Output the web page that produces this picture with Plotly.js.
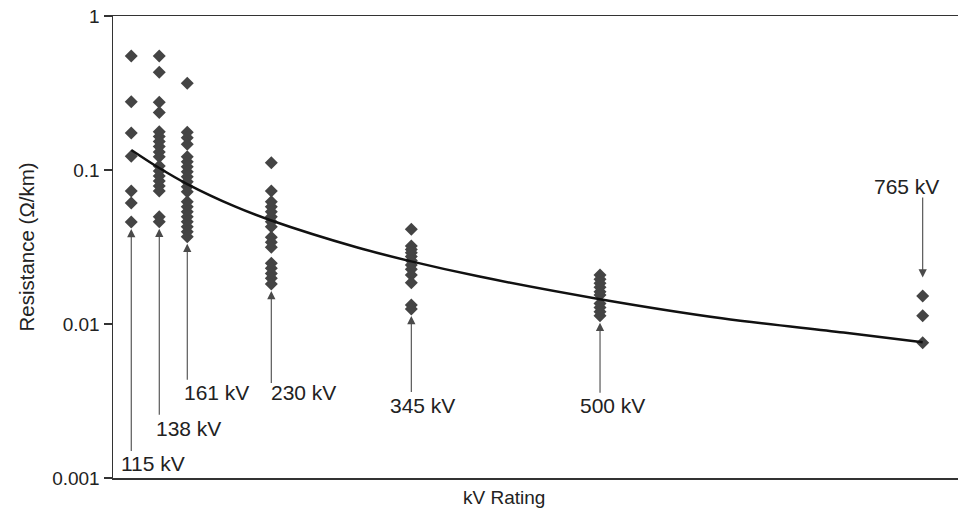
<!DOCTYPE html>
<html>
<head>
<meta charset="utf-8">
<script src="https://cdn.plot.ly/plotly-3.0.1.min.js"></script>
<style>html,body{margin:0;padding:0;background:#fff;}#chart{width:960px;height:512px;}</style>
</head>
<body>
<div id="chart"></div>
<script>
// kV ratings (categories)
const ratings = [115, 138, 161, 230, 345, 500, 765];
const ratingLabels = ["115 kV", "138 kV", "161 kV", "230 kV", "345 kV", "500 kV", "765 kV"];

// Resistance values (Ω/km), per rating
const r115 = [0.55, 0.277, 0.174, 0.123, 0.073, 0.061, 0.046];
const r138 = [0.55, 0.431, 0.275, 0.236, 0.177, 0.165, 0.153, 0.142, 0.131, 0.122, 0.106, 0.0986, 0.0914, 0.0849, 0.0787, 0.0731, 0.0498, 0.0462];
const r161 = [0.366, 0.176, 0.162, 0.147, 0.122, 0.113, 0.105, 0.0975, 0.0905, 0.0839, 0.0779, 0.0723, 0.0622, 0.0578, 0.0536, 0.0497, 0.0462, 0.0428, 0.0397, 0.0369];
const r230 = [0.1115, 0.0731, 0.0622, 0.0578, 0.0536, 0.0497, 0.0462, 0.0428, 0.0366, 0.0339, 0.0315, 0.0248, 0.0230, 0.0213, 0.0198, 0.0182];
const r345 = [0.0412, 0.0321, 0.0305, 0.0290, 0.0274, 0.0258, 0.0242, 0.0227, 0.0208, 0.0185, 0.0133, 0.0125];
const r500 = [0.0208, 0.0195, 0.0184, 0.0173, 0.0162, 0.0154, 0.0136, 0.0128, 0.0120, 0.0113];
const r765 = [0.0152, 0.0113, 0.00756];

// Trend curve
const trendKv = [115, 138, 161, 200, 230, 300, 345, 400, 500, 600, 700, 765];
const trendR  = [0.135, 0.103, 0.081, 0.058, 0.047, 0.0315, 0.0255, 0.0204, 0.0145, 0.0109, 0.0088, 0.0076];

// y tick labels
const yTickVals = [0.001, 0.01, 0.1, 1];
const yTickText = ["0.001", "0.01", "0.1", "1"];

const groups = [r115, r138, r161, r230, r345, r500, r765];
const xs = [], ys = [];
groups.forEach((g, i) => g.forEach(v => { xs.push(ratings[i]); ys.push(v); }));

const FONT = "Liberation Sans, Arial, sans-serif";
const FS = 19;
const LFS = 21;

const traces = [
  {
    x: xs, y: ys, type: "scatter", mode: "markers",
    marker: {symbol: "diamond", size: 10, color: "#444444"},
    hoverinfo: "skip"
  },
  {
    x: trendKv, y: trendR, type: "scatter", mode: "lines",
    line: {color: "#111111", width: 2.5, shape: "spline"},
    hoverinfo: "skip"
  }
];

// arrow settings: [pixel tail offset ay, label xshift, label paper y]
const arrowAy   = [224, 188, 138, 94, 78, 72, -82];
const labelDx   = [-12, -5, -5, -2, -23, -22, -51];
const labelY    = [0.032, 0.108, 0.184, 0.184, 0.158, 0.158, 0.630];

const annotations = [];
ratings.forEach((kv, i) => {
  const g = groups[i];
  const down = arrowAy[i] < 0;
  const tipVal = down ? Math.max(...g) * 1.32 : Math.min(...g) * 0.9;
  annotations.push({
    x: kv, y: Math.log10(tipVal), xref: "x", yref: "y",
    text: " ", font: {size: 1}, showarrow: true, ax: 0, ay: arrowAy[i],
    arrowhead: 2, arrowsize: 1.5, arrowwidth: 1.1, arrowcolor: "#4a4a4a",
    standoff: 0, startstandoff: 0
  });
  annotations.push({
    x: kv, y: labelY[i], xref: "x", yref: "paper",
    xanchor: "left", yanchor: "middle", xshift: labelDx[i],
    text: ratingLabels[i], showarrow: false,
    font: {family: FONT, size: LFS, color: "#222222"}
  });
});
annotations.push({
  x: 0.463, y: 0, xref: "paper", yref: "paper", yshift: -7,
  xanchor: "center", yanchor: "top", text: "kV Rating", showarrow: false,
  font: {family: FONT, size: FS, color: "#222222"}
});

const layout = {
  width: 960, height: 512,
  margin: {l: 113, r: 2, t: 16, b: 34},
  paper_bgcolor: "#ffffff", plot_bgcolor: "#ffffff",
  showlegend: false,
  font: {family: FONT, size: FS, color: "#222222"},
  xaxis: {
    range: [100, 794], showgrid: false, zeroline: false,
    showticklabels: false, ticks: "",
    showline: true, linecolor: "#333333", linewidth: 1.5, mirror: true
  },
  yaxis: {
    type: "log", range: [-3, 0], showgrid: false, zeroline: false,
    tickvals: yTickVals, ticktext: yTickText,
    ticks: "outside", ticklen: 8, tickcolor: "#333333", tickwidth: 1.5,
    showline: true, linecolor: "#333333", linewidth: 1.5,
    tickfont: {family: FONT, size: FS, color: "#222222"},
    title: {text: "Resistance (Ω/km)", standoff: 12, font: {family: FONT, size: 20.5, color: "#222222"}}
  },
  annotations: annotations
};

Plotly.newPlot("chart", traces, layout, {staticPlot: true, displayModeBar: false});
</script>
</body>
</html>
